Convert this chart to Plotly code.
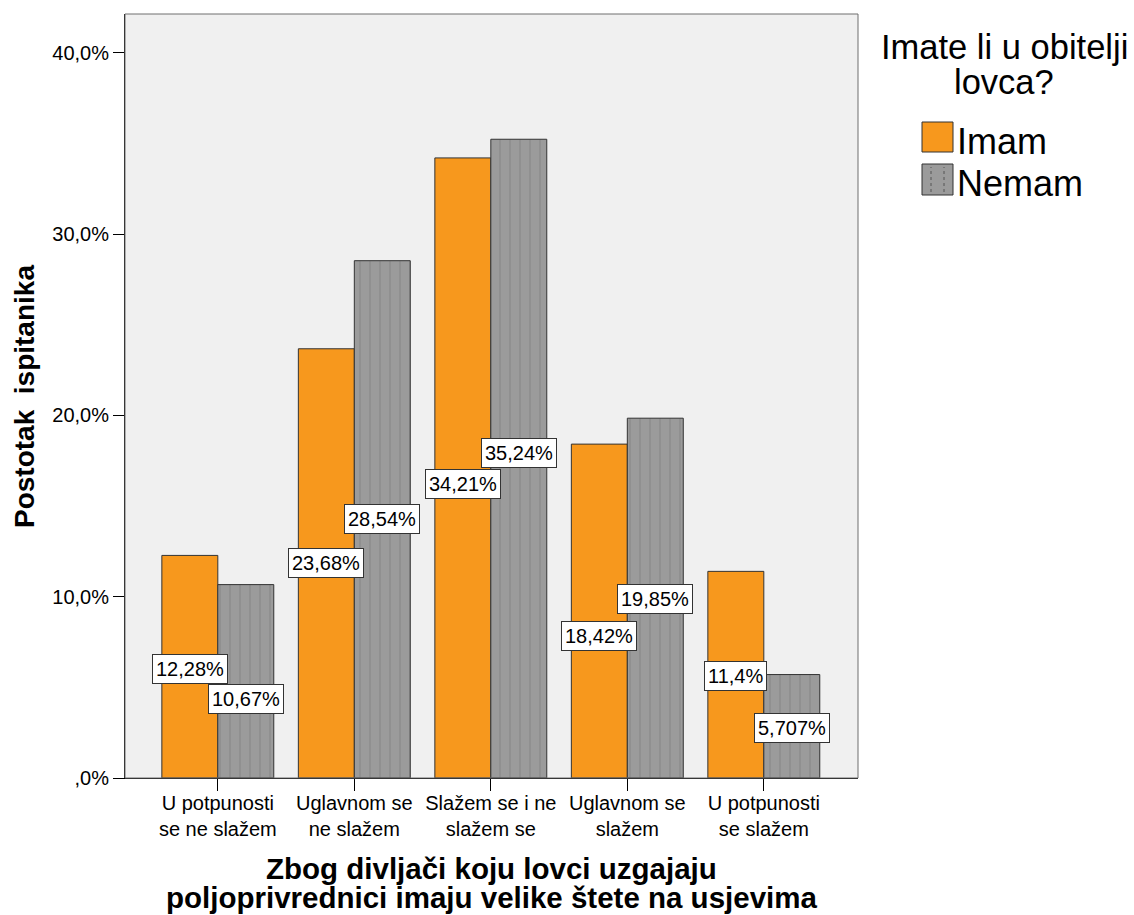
import plotly.graph_objects as go

categories = ["U potpunosti<br>se ne slažem", "Uglavnom se<br>ne slažem", "Slažem se i ne<br>slažem se",
              "Uglavnom se<br>slažem", "U potpunosti<br>se slažem"]
series_names = ["Imam", "Nemam"]
imam = [12.28, 23.68, 34.21, 18.42, 11.40]
nemam = [10.67, 28.54, 35.24, 19.85, 5.707]
imam_labels = ["12,28%", "23,68%", "34,21%", "18,42%", "11,4%"]
nemam_labels = ["10,67%", "28,54%", "35,24%", "19,85%", "5,707%"]
y_tickvals = [0, 10, 20, 30, 40]
y_ticktext = [",0%", "10,0%", "20,0%", "30,0%", "40,0%"]
x_title = ["Zbog divljači koju lovci uzgajaju", "poljoprivrednici imaju velike štete na usjevima"]
y_title = "Postotak\u00a0 ispitanika"
legend_title = ["Imate li u obitelji", "lovca?"]

# label box nudges (px) so that neighbouring boxes do not collide, as in the original
imam_nudge = [-2, 0, -16, -25, -1]
nemam_nudge = [-18, 0, 6, -1, -2]

FONT = "Liberation Sans, Arial, sans-serif"
ORANGE = "#F7981D"
GRAY = "#9B9B9B"

L, R, T, B = 125, 276, 14, 137
W, H = 1134, 915
PW, PH = W - L - R, H - T - B

def px(x):
    return (x - L) / PW

def py(y):
    return (H - B - y) / PH

xs = list(range(len(categories)))
bargap = 0.18
bw = (1 - bargap) / 2

fig = go.Figure()
fig.add_trace(go.Bar(
    x=xs, y=imam, name=series_names[0],
    marker=dict(color=ORANGE, line=dict(color="#333333", width=1)),
))
fig.add_trace(go.Bar(
    x=xs, y=nemam, name=series_names[1],
    marker=dict(color=GRAY, line=dict(color="#333333", width=1),
                pattern=dict(shape="|", fgcolor="#707070", bgcolor=GRAY, size=10, solidity=0.1)),
))

def txt(text, x, y, size, bold=False, xanchor="center", angle=0):
    return dict(x=x, y=y, xref="paper", yref="paper", text=("<b>%s</b>" % text) if bold else text,
                showarrow=False, xanchor=xanchor, yanchor="middle", textangle=angle,
                font=dict(family=FONT, size=size, color="black"))

annotations = []
for vals, labs, nudge, off in ((imam, imam_labels, imam_nudge, -bw / 2),
                               (nemam, nemam_labels, nemam_nudge, bw / 2)):
    for i in xs:
        annotations.append(dict(
            x=i + off, y=vals[i] / 2, xref="x", yref="y", text=labs[i], showarrow=False,
            xanchor="center", yanchor="middle", yshift=nudge[i],
            font=dict(family=FONT, size=20, color="black"),
            bgcolor="white", bordercolor="#333333", borderwidth=1, borderpad=3,
        ))

# axis titles
annotations.append(txt(x_title[0], 0.5, py(868), 29.5, bold=True))
annotations.append(txt(x_title[1], 0.5, py(897), 29.5, bold=True))
annotations.append(txt(y_title, px(24), 0.5, 28, bold=True, angle=-90))
# legend title and items
annotations.append(txt(legend_title[0], px(1004), py(47), 34.5))
annotations.append(txt(legend_title[1], px(1004), py(82), 34.5))
annotations.append(txt(series_names[0], px(955), py(142), 36, xanchor="left"))
annotations.append(txt(series_names[1], px(955), py(183), 36, xanchor="left"))

shapes = [
    dict(type="rect", xref="paper", yref="paper", x0=0, x1=1, y0=0, y1=1,
         line=dict(color="#6f6f6f", width=1), layer="above"),
    dict(type="rect", xref="paper", yref="paper", x0=px(922), x1=px(953), y0=py(152), y1=py(122),
         fillcolor=ORANGE, line=dict(color="#333333", width=1)),
    dict(type="rect", xref="paper", yref="paper", x0=px(922), x1=px(953), y0=py(195), y1=py(164),
         fillcolor=GRAY, line=dict(color="#333333", width=1)),
]
for lx in (931, 944):
    shapes.append(dict(type="line", xref="paper", yref="paper", x0=px(lx), x1=px(lx), y0=py(192), y1=py(167),
                       line=dict(color="#555555", width=1, dash="dot")))

fig.update_layout(
    width=W, height=H,
    margin=dict(l=L, r=R, t=T, b=B, pad=0),
    paper_bgcolor="white", plot_bgcolor="#F0F0F0",
    barmode="group", bargap=bargap, bargroupgap=0,
    showlegend=False,
    font=dict(family=FONT, color="black"),
    annotations=annotations, shapes=shapes,
    xaxis=dict(range=[-0.68, 4.69], tickvals=xs, ticktext=categories,
               showgrid=False, zeroline=False, showline=True, linecolor="black", linewidth=1,
               ticks="outside", ticklen=12, tickcolor="black", tickwidth=1, ticklabelstandoff=-5,
               tickfont=dict(family=FONT, size=20, color="black"), fixedrange=True),
    yaxis=dict(range=[0, 42.15], tickvals=y_tickvals, ticktext=y_ticktext,
               showgrid=False, zeroline=False, showline=True, linecolor="black", linewidth=1,
               ticks="outside", ticklen=11, tickcolor="black", tickwidth=1,
               tickfont=dict(family=FONT, size=20, color="black"), fixedrange=True),
)

fig.write_html("out.html", config={"displayModeBar": False},
               post_script="document.body.style.margin='0px';")
